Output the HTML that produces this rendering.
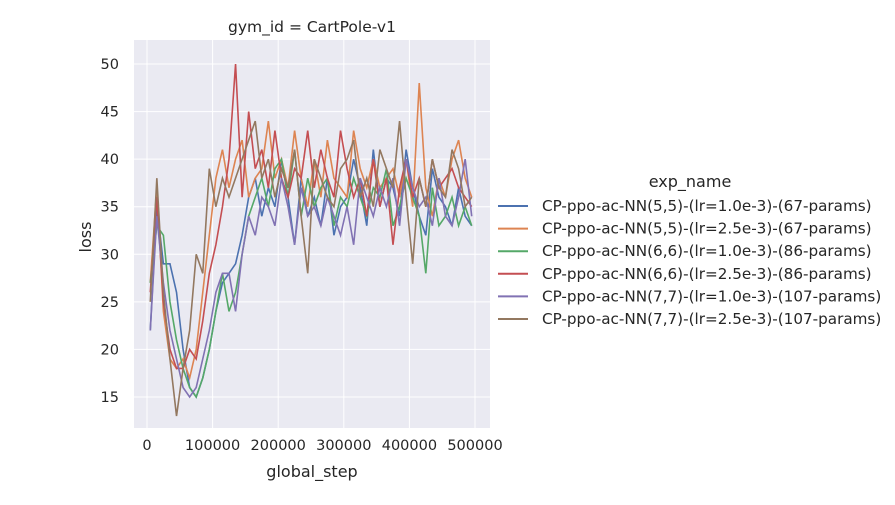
<!DOCTYPE html>
<html><head><meta charset="utf-8"><style>
body{margin:0;background:#fff;font-family:"Liberation Sans","DejaVu Sans",sans-serif;}
svg text{font-family:"DejaVu Sans","Liberation Sans",sans-serif;fill:#262626;}
</style></head><body>
<svg id="c" width="895" height="500"></svg>
<script>
const steps=[5000,15000,25000,35000,45000,55000,65000,75000,85000,95000,105000,115000,125000,135000,145000,155000,165000,175000,185000,195000,205000,215000,225000,235000,245000,255000,265000,275000,285000,295000,305000,315000,325000,335000,345000,355000,365000,375000,385000,395000,405000,415000,425000,435000,445000,455000,465000,475000,485000,495000];
const names=["CP-ppo-ac-NN(5,5)-(lr=1.0e-3)-(67-params)","CP-ppo-ac-NN(5,5)-(lr=2.5e-3)-(67-params)","CP-ppo-ac-NN(6,6)-(lr=1.0e-3)-(86-params)","CP-ppo-ac-NN(6,6)-(lr=2.5e-3)-(86-params)","CP-ppo-ac-NN(7,7)-(lr=1.0e-3)-(107-params)","CP-ppo-ac-NN(7,7)-(lr=2.5e-3)-(107-params)"];
const colors=["#4c72b0","#dd8452","#55a868","#c44e52","#8172b3","#937860"];
const s1=[22,35,29,29,26,20,16,15,17,20,24,27,28,29,32,36,38,34,37,35,40,36,31,38,34,36,33,38,32,35,36,40,37,33,41,35,38,37,34,41,37,34,32,39,36,35,33,37,34,33];
const s2=[27,37,24,19,18,19,17,20,26,32,38,41,37,40,42,36,38,39,44,38,40,37,43,38,35,40,36,42,38,37,36,43,39,37,40,37,38,39,36,40,35,48,37,34,38,36,40,42,38,36];
const s3=[27,33,32,25,21,18,16,15,17,20,24,28,24,26,30,34,36,38,35,39,40,36,41,34,38,35,37,38,33,36,35,38,36,34,37,36,39,33,35,38,36,34,28,37,33,34,36,33,35,33];
const s4=[26,36,25,20,18,18,20,19,23,28,31,35,40,50,36,45,39,41,37,43,38,36,39,38,43,37,41,38,36,43,39,36,38,34,40,35,38,31,37,40,36,38,35,40,37,38,39,37,36,35];
const s5=[22,34,27,22,19,16,15,16,19,22,26,28,28,24,30,34,32,36,35,33,38,35,31,37,34,35,33,36,34,32,35,31,38,36,34,37,35,38,33,40,37,35,36,33,38,34,33,36,40,34];
const s6=[25,38,26,19,13,18,22,30,28,39,35,38,36,38,40,42,44,38,40,36,39,37,41,34,28,40,38,36,35,39,40,42,36,38,35,41,39,37,44,36,29,38,35,40,37,36,41,39,35,36];
const series=[s1,s2,s3,s4,s5,s6];
const xTicks=[0,100000,200000,300000,400000,500000];
const yTicks=[15,20,25,30,35,40,45,50];
const L=134,R=490,T=40,B=428;
const X=v=>147+v*(475-147)/500000;
const Y=v=>397-(v-15)*(397-64)/35;
const svg=document.getElementById('c');const NS="http://www.w3.org/2000/svg";
function mk(t,a,p){const e=document.createElementNS(NS,t);for(const k in a)e.setAttribute(k,a[k]);(p||svg).appendChild(e);return e;}
let bg=mk('rect',{x:L,y:T,width:R-L,height:B-T,fill:'#eaeaf2'});


xTicks.forEach(v=>{const g=mk('line',{x1:X(v),x2:X(v),y1:T,y2:B,stroke:'#fff','stroke-width':1});


const t=mk('text',{x:X(v),y:450,'text-anchor':'middle','font-size':14.5});t.textContent=v;

});
yTicks.forEach(v=>{const g=mk('line',{x1:L,x2:R,y1:Y(v),y2:Y(v),stroke:'#fff','stroke-width':1});


const t=mk('text',{x:119,y:Y(v)+5,'text-anchor':'end','font-size':14.5});t.textContent=v;

});
series.forEach((s,i)=>{const p=mk('polyline',{points:s.map((v,j)=>X(steps[j])+','+Y(v)).join(' '),fill:'none',stroke:colors[i],'stroke-width':1.6});


const ly=206+i*22.6;
const ll=mk('line',{x1:498,x2:528,y1:ly,y2:ly,stroke:colors[i],'stroke-width':2});


const lt=mk('text',{x:542,y:ly+5,'font-size':15.2});lt.textContent=names[i];

});
function txt(s,a,n){const t=mk('text',a);t.textContent=s;

return t;}
txt('gym_id = CartPole-v1',{x:312,y:32,'text-anchor':'middle','font-size':15.5},'chart-title');
txt('global_step',{x:312,y:477,'text-anchor':'middle','font-size':16},'x-axis-title');
txt('loss',{x:0,y:0,'text-anchor':'middle','font-size':16,transform:'translate(91,237) rotate(-90)'},'y-axis-title');
txt('exp_name',{x:690,y:187,'text-anchor':'middle','font-size':16},'legend-title');
</script></body></html>
